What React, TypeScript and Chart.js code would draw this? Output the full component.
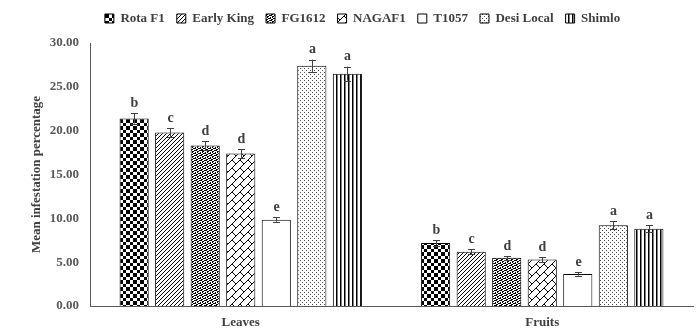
import React, { useEffect, useRef } from "react";
import { Chart, registerables } from "chart.js";

Chart.register(...registerables);

const categories = ["Leaves", "Fruits"];
const varieties = ["Rota F1", "Early King", "FG1612", "NAGAF1", "T1057", "Desi Local", "Shimlo"];
const rotaF1 = [21.4, 7.2];
const earlyKing = [19.8, 6.2];
const fg1612 = [18.3, 5.5];
const nagaf1 = [17.4, 5.3];
const t1057 = [9.85, 3.65];
const desiLocal = [27.4, 9.2];
const shimlo = [26.5, 8.8];
const errRotaF1 = [0.6, 0.3];
const errEarlyKing = [0.5, 0.3];
const errFg1612 = [0.5, 0.2];
const errNagaf1 = [0.5, 0.3];
const errT1057 = [0.25, 0.2];
const errDesiLocal = [0.7, 0.45];
const errShimlo = [0.8, 0.4];
const letters = [["b", "b"], ["c", "c"], ["d", "d"], ["d", "d"], ["e", "e"], ["a", "a"], ["a", "a"]];
const yTicks = [0, 5, 10, 15, 20, 25, 30];

const FONT = "'Liberation Serif', 'Times New Roman', serif";

function makePattern(kind: string): CanvasPattern | string {
  if (kind === "white") return "#ffffff";
  const c = document.createElement("canvas");
  let w = 4, h = 4;
  if (kind === "checker") { w = 7; h = 7; }
  if (kind === "brick") { w = 8; h = 8; }
  if (kind === "dense") { w = 5; h = 5; }
  c.width = w; c.height = h;
  const g = c.getContext("2d")!;
  g.fillStyle = "#ffffff";
  g.fillRect(0, 0, w, h);
  g.fillStyle = "#000000";
  g.strokeStyle = "#000000";
  if (kind === "checker") {
    g.fillRect(0, 0, 4, 4);
    g.fillRect(4, 4, 3, 3);
  } else if (kind === "diag") {
    g.lineWidth = 1;
    g.beginPath();
    g.moveTo(-1, 5); g.lineTo(5, -1);
    g.moveTo(-1, 1); g.lineTo(1, -1);
    g.moveTo(3, 5); g.lineTo(5, 3);
    g.stroke();
  } else if (kind === "dense") {
    const px = [[0, 0], [1, 0], [3, 1], [0, 2], [2, 2], [4, 3], [1, 4], [2, 4], [3, 3], [4, 0], [2, 1], [0, 3]];
    px.forEach(([x, y]) => g.fillRect(x, y, 1, 1));
  } else if (kind === "brick") {
    g.lineWidth = 1;
    g.beginPath();
    g.moveTo(-1, 9); g.lineTo(9, -1);
    g.moveTo(0, 0); g.lineTo(4, 4);
    g.stroke();
  } else if (kind === "dots") {
    g.fillStyle = "#555555";
    g.fillRect(0, 0, 1, 1);
    g.fillRect(2, 2, 1, 1);
  } else if (kind === "vlines") {
    g.fillRect(0, 0, 1.5, h);
  }
  return g.createPattern(c, "repeat")!;
}

export default function App() {
  const ref = useRef<HTMLCanvasElement | null>(null);
  useEffect(() => {
    const kinds = ["checker", "diag", "dense", "brick", "white", "dots", "vlines"];
    const values = [rotaF1, earlyKing, fg1612, nagaf1, t1057, desiLocal, shimlo];
    const errors = [errRotaF1, errEarlyKing, errFg1612, errNagaf1, errT1057, errDesiLocal, errShimlo];

    const legendShift = {
      id: "legendShift",
      afterLayout(chart: any) {
        if (chart.legend) {
          chart.legend.left += 16;
          chart.legend.right += 16;
          chart.legend.top -= 8;
          chart.legend.bottom -= 8;
        }
      },
    };

    const errPlugin = {
      id: "errbars",
      afterDatasetsDraw(chart: any) {
        const ctx = chart.ctx;
        const ys = chart.scales.y;
        ctx.save();
        chart.data.datasets.forEach((ds: any, di: number) => {
          const meta = chart.getDatasetMeta(di);
          meta.data.forEach((el: any, i: number) => {
            const v = ds.data[i];
            const e = errors[di][i];
            const yt = ys.getPixelForValue(v + e);
            const yb = ys.getPixelForValue(v - e);
            const x = Math.round(el.x);
            ctx.strokeStyle = "#404040";
            ctx.lineWidth = 1;
            ctx.beginPath();
            ctx.moveTo(x + 0.5, yt); ctx.lineTo(x + 0.5, yb);
            ctx.moveTo(x - 3, Math.round(yt) + 0.5); ctx.lineTo(x + 4, Math.round(yt) + 0.5);
            ctx.moveTo(x - 3, Math.round(yb) + 0.5); ctx.lineTo(x + 4, Math.round(yb) + 0.5);
            ctx.stroke();
            ctx.fillStyle = "#404040";
            ctx.font = "bold 14px " + FONT;
            ctx.textAlign = "center";
            ctx.textBaseline = "bottom";
            ctx.fillText(letters[di][i], x + 0.5, yt - 3);
          });
        });
        ctx.restore();
      },
    };

    const chart = new Chart(ref.current!, {
      type: "bar",
      data: {
        labels: categories,
        datasets: varieties.map((name, i) => ({
          label: name,
          data: values[i],
          backgroundColor: makePattern(kinds[i]) as any,
          borderColor: "#000000",
          borderWidth: 1,
          categoryPercentage: 0.825,
          barPercentage: 0.82,
        })),
      },
      options: {
        animation: false,
        responsive: true,
        maintainAspectRatio: false,
        layout: { padding: { left: 0, right: 6, top: 0, bottom: 0 } },
        plugins: {
          tooltip: { enabled: false },
          legend: {
            position: "top",
            labels: {
              boxWidth: 9,
              boxHeight: 9,
              padding: 12,
              color: "#404040",
              font: { family: FONT, size: 13, weight: "bold" },
            },
          },
        },
        scales: {
          x: {
            grid: { display: false, drawTicks: false },
            border: { display: true, color: "#595959", width: 1 },
            ticks: { color: "#404040", padding: 9, font: { family: FONT, size: 13, weight: "bold" } },
            afterFit: (s: any) => { s.height = 23; },
          },
          y: {
            min: 0,
            max: 30,
            afterBuildTicks: (s: any) => { s.ticks = yTicks.map((v) => ({ value: v })); },
            grid: { display: false, drawTicks: false },
            border: { display: true, color: "#595959", width: 1 },
            ticks: {
              color: "#595959",
              padding: 11,
              font: { family: FONT, size: 13, weight: "bold" },
              callback: (v: any) => Number(v).toFixed(2),
            },
            title: {
              display: true,
              text: "Mean infestation percentage",
              color: "#404040",
              font: { family: FONT, size: 13, weight: "bold" },
              padding: { top: 29, bottom: 0 },
            },
            afterFit: (s: any) => { s.width = 90; s.paddingTop = 43; },
          },
        },
      },
      plugins: [errPlugin, legendShift],
    });
    return () => chart.destroy();
  }, []);
  return (
    <div style={{ position: "fixed", left: 0, top: 0, width: 699, height: 329, background: "#fff" }}>
      <canvas ref={ref} />
    </div>
  );
}
